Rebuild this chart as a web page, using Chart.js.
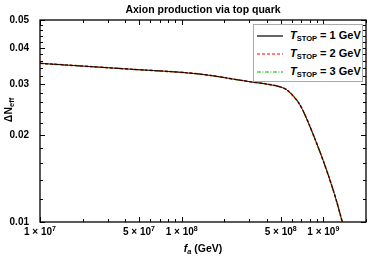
<!DOCTYPE html>
<html>
<head>
<meta charset="utf-8">
<script src="https://cdn.jsdelivr.net/npm/chart.js@4.4.0/dist/chart.umd.min.js"></script>
<style>
  html, body { margin: 0; padding: 0; background: #fff; }
  #wrap { position: relative; width: 374px; height: 258px; font-family: "Liberation Sans", Arial, sans-serif; font-weight: bold; color: #000; }
  #chart { position: absolute; left: 0; top: 0; }
  .title { position: absolute; left: 40px; width: 326px; top: 3px; text-align: center; font-size: 10.5px; }
  .xtitle { position: absolute; left: 40px; width: 326px; top: 242px; text-align: center; font-size: 10.5px; }
  .ytitle { position: absolute; left: -16px; top: 103px; width: 50px; text-align: center; font-size: 10.5px; transform: rotate(-90deg); }
  sub { font-size: 7.5px; vertical-align: -2px; }
  .xlab { position: absolute; top: 226px; font-size: 10px; white-space: nowrap; transform: translateX(-50%); }
  .xlab sup { font-size: 7px; vertical-align: 4px; line-height: 0; }
  .legend { position: absolute; left: 253px; top: 24px; width: 110px; height: 58px; background: #fff; border: 1px solid #aaa; box-sizing: border-box; font-size: 11px; }
  .legend .row { position: absolute; left: 3px; height: 14px; display: flex; align-items: center; }
  .legend svg { width: 26px; height: 6px; margin-right: 7px; }
</style>
</head>
<body>
<div id="wrap">
  <canvas id="chart" width="374" height="258"></canvas>
  <div class="title">Axion production via top quark</div>
  <div class="xtitle"><i>f</i><sub><i>a</i></sub> (GeV)</div>
  <div class="ytitle">ΔN<sub>eff</sub></div>
  <div class="legend">
    <div class="row" style="top:4px"><svg><line x1="0" y1="3" x2="26" y2="3" stroke="#000" stroke-width="1.2"/></svg><span><i>T</i><sub>STOP</sub> = 1 GeV</span></div>
    <div class="row" style="top:22px"><svg><line x1="0" y1="3" x2="26" y2="3" stroke="#f00" stroke-width="1.2" stroke-dasharray="3,2"/></svg><span><i>T</i><sub>STOP</sub> = 2 GeV</span></div>
    <div class="row" style="top:40px"><svg><line x1="0" y1="3" x2="26" y2="3" stroke="#00b000" stroke-width="1.2" stroke-dasharray="4,1.5,1,1.5"/></svg><span><i>T</i><sub>STOP</sub> = 3 GeV</span></div>
  </div>
</div>
<script>
// === data ===
const fa = [1e7, 4.3e7, 1.34e8, 3e8, 4.17e8, 5e8, 5.5e8, 6e8, 6.78e8, 7.5e8, 8.4e8, 9.5e8, 1.05e9, 1.15e9, 1.24e9, 1.36e9];
const dnT1 = [0.0354, 0.0338, 0.0325, 0.0306, 0.0299, 0.0293, 0.0287, 0.0276, 0.0256, 0.0232, 0.0203, 0.0174, 0.0152, 0.0133, 0.0118, 0.0100];
const dnT2 = [0.0354, 0.0338, 0.0325, 0.0306, 0.0299, 0.0293, 0.0287, 0.0276, 0.0256, 0.0232, 0.0203, 0.0174, 0.0152, 0.0133, 0.0118, 0.0100];
const dnT3 = [0.0354, 0.0338, 0.0325, 0.0306, 0.0299, 0.0293, 0.0287, 0.0276, 0.0256, 0.0232, 0.0203, 0.0174, 0.0152, 0.0133, 0.0118, 0.0100];

const xTickValues = [1e7, 5e7, 1e8, 5e8, 1e9];
const xTickMant = ["1", "5", "1", "5", "1"];
const xTickExp = ["7", "7", "8", "8", "9"];
const xMinorTicks = [2e7, 3e7, 4e7, 6e7, 7e7, 8e7, 9e7, 2e8, 3e8, 4e8, 6e8, 7e8, 8e8, 9e8, 2e9];
const yTickValues = [0.01, 0.02, 0.03, 0.04, 0.05];
const yTickLabels = ["0.01", "0.02", "0.03", "0.04", "0.05"];
const yMinorTicks = [0.012, 0.014, 0.016, 0.018, 0.022, 0.024, 0.026, 0.028, 0.032, 0.034, 0.036, 0.038, 0.042, 0.044, 0.046, 0.048];

const pts = ys => fa.map((x, i) => ({ x: x, y: ys[i] }));

// frame with inward ticks on all four sides
const framePlugin = {
  id: "frame",
  afterDraw(chart) {
    const { ctx, chartArea: a, scales } = chart;
    ctx.save();
    ctx.strokeStyle = "#000";
    ctx.lineWidth = 1;
    const tick = (x1, y1, x2, y2) => { ctx.beginPath(); ctx.moveTo(x1, y1); ctx.lineTo(x2, y2); ctx.stroke(); };
    xTickValues.concat(xMinorTicks).forEach(v => {
      const len = xTickValues.includes(v) ? 5 : 3;
      const px = Math.round(scales.x.getPixelForValue(v)) + 0.5;
      tick(px, a.bottom, px, a.bottom - len);
      tick(px, a.top, px, a.top + len);
    });
    yTickValues.concat(yMinorTicks).forEach(v => {
      const len = yTickValues.includes(v) ? 5 : 3;
      const py = Math.round(scales.y.getPixelForValue(v)) + 0.5;
      tick(a.left, py, a.left + len, py);
      tick(a.right, py, a.right - len, py);
    });
    ctx.lineWidth = 1.3;
    ctx.strokeRect(a.left, a.top, a.right - a.left, a.bottom - a.top);
    ctx.restore();
  }
};

const chart = new Chart(document.getElementById("chart"), {
  type: "line",
  data: {
    datasets: [
      { label: "T_STOP = 1 GeV", data: pts(dnT1), borderColor: "#000", borderWidth: 0.9 },
      { label: "T_STOP = 2 GeV", data: pts(dnT2), borderColor: "#ff0000", borderWidth: 1.5, borderDash: [3, 2] },
      { label: "T_STOP = 3 GeV", data: pts(dnT3), borderColor: "#00b000", borderWidth: 1.5, borderDash: [3, 2, 1, 2], borderDashOffset: 2.5 }
    ]
  },
  options: {
    responsive: false,
    animation: false,
    layout: { padding: { top: 20, right: 8, left: 0, bottom: 0 } },
    elements: { point: { radius: 0 }, line: { cubicInterpolationMode: "monotone" } },
    plugins: { legend: { display: false }, title: { display: false }, tooltip: { enabled: false } },
    scales: {
      x: {
        type: "logarithmic", min: 1e7, max: 2e9,
        afterBuildTicks: s => { s.ticks = xTickValues.map(v => ({ value: v })); },
        afterFit: s => { s.height = 36; },
        grid: { display: false }, border: { display: false },
        ticks: { display: false }
      },
      y: {
        type: "logarithmic", min: 0.01, max: 0.05,
        afterBuildTicks: s => { s.ticks = yTickValues.map(v => ({ value: v })); },
        afterFit: s => { s.width = 40; },
        grid: { display: false }, border: { display: false },
        ticks: {
          autoSkip: false, padding: 3, color: "#000",
          font: { family: "Liberation Sans", size: 10, weight: "bold" },
          callback: v => yTickLabels[yTickValues.indexOf(v)]
        }
      }
    }
  },
  plugins: [framePlugin]
});

// x tick labels with real superscripts, placed through the x scale
const wrap = document.getElementById("wrap");
xTickValues.forEach((v, i) => {
  const el = document.createElement("div");
  el.className = "xlab";
  el.innerHTML = xTickMant[i] + " × 10<sup>" + xTickExp[i] + "</sup>";
  el.style.left = chart.scales.x.getPixelForValue(v) + "px";
  wrap.appendChild(el);
});
</script>
</body>
</html>
